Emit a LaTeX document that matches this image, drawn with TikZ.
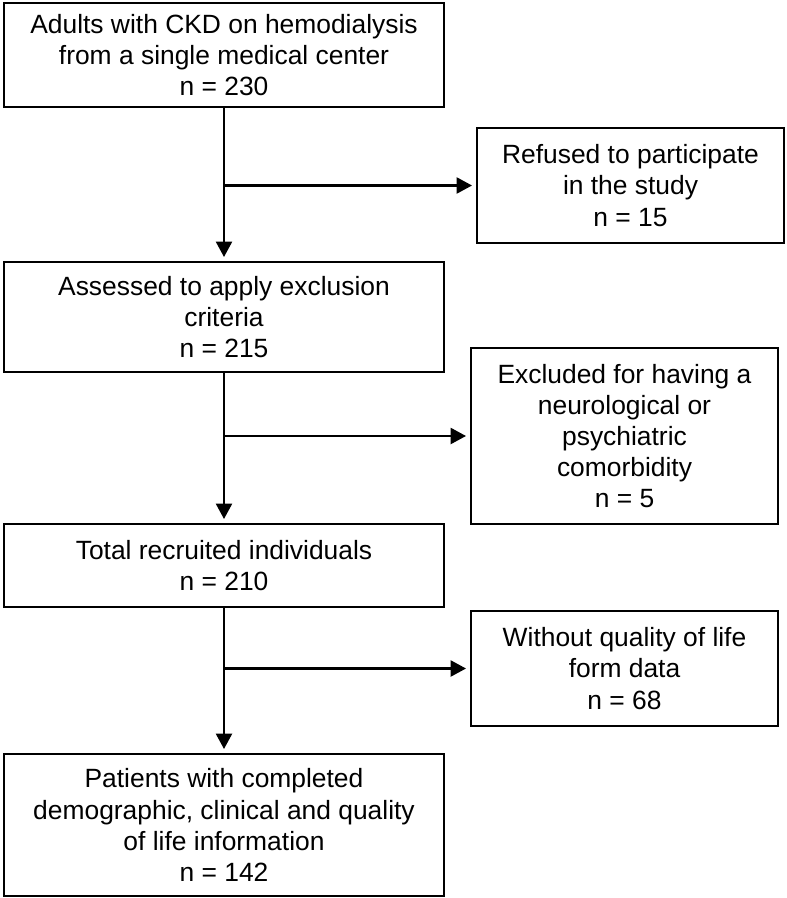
\documentclass[tikz,border=0pt]{standalone}
\usepackage{fontspec}
\setmainfont{Liberation Sans}
\usetikzlibrary{arrows.meta}
\begin{document}
\begin{tikzpicture}[x=0.75pt,y=-0.75pt,
  box/.style={draw=black, line width=1.5pt, align=center, inner sep=0pt, text=black,
    font=\fontsize{19.8}{23.3}\selectfont},
  flow/.style={draw=black, line width=1.6pt, -{Triangle[length=11.5pt,width=12pt]}, shorten >=3pt}]
\useasboundingbox (0,0) rectangle (786,898);
\node[box, minimum width=330pt, minimum height=78pt] (a) at (224,55)
  {Adults with CKD on hemodialysis\\from a single medical center\\n = 230};
\node[box, minimum width=330pt, minimum height=82.5pt] (b) at (224,317)
  {Assessed to apply exclusion\\criteria\\n = 215};
\node[box, minimum width=330pt, minimum height=62.25pt] (c) at (224,565.5)
  {Total recruited individuals\\n = 210};
\node[box, minimum width=330pt, minimum height=106.5pt] (d) at (224,825)
  {Patients with completed\\demographic, clinical and quality\\of life information\\n = 142};
\node[box, minimum width=230.25pt, minimum height=86.25pt] (r1) at (630.5,185.5)
  {Refused to participate\\in the study\\n = 15};
\node[box, minimum width=230.25pt, minimum height=132pt] (r2) at (624.5,436)
  {Excluded for having a\\neurological or\\psychiatric\\comorbidity\\n = 5};
\node[box, minimum width=230.25pt, minimum height=86.25pt] (r3) at (624.5,668.5)
  {Without quality of life\\form data\\n = 68};
\draw[flow] (a.south) -- (b.north);
\draw[flow] (b.south) -- (c.north);
\draw[flow] (c.south) -- (d.north);
\draw[flow] (a.south |- r1.west) -- (r1.west);
\draw[flow] (b.south |- r2.west) -- (r2.west);
\draw[flow] (c.south |- r3.west) -- (r3.west);
\end{tikzpicture}
\end{document}
